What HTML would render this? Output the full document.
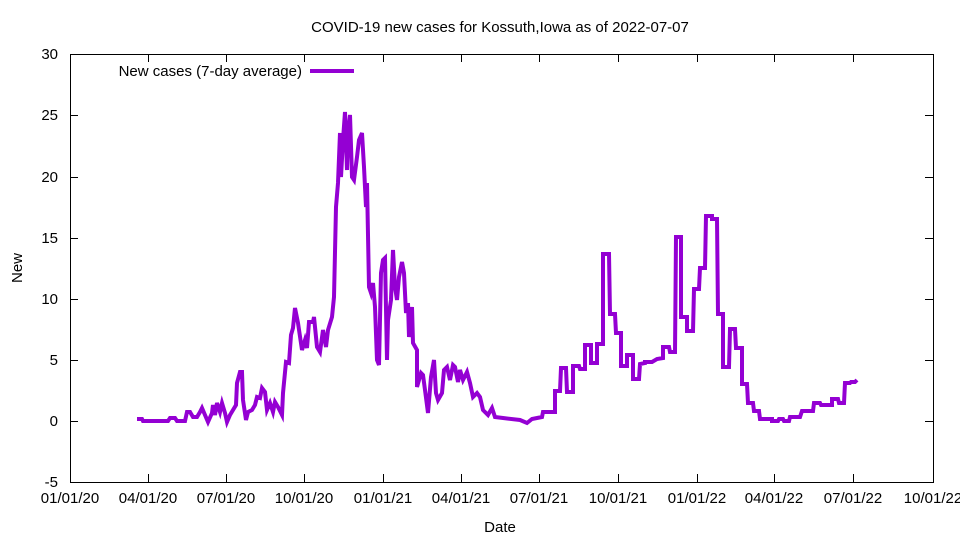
<!DOCTYPE html>
<html><head><meta charset="utf-8"><style>
html,body{margin:0;padding:0;background:#fff;}
svg{display:block;font-family:"Liberation Sans",Arial,sans-serif;}
</style></head><body>
<svg width="960" height="540" viewBox="0 0 960 540" xmlns="http://www.w3.org/2000/svg">
<rect width="960" height="540" fill="#fff"/>
<text x="500" y="32" font-size="15" text-anchor="middle">COVID-19 new cases for Kossuth,Iowa as of 2022-07-07</text>
<g stroke="#000" stroke-width="1" fill="none">
<rect x="70.5" y="54.5" width="863" height="428"/>
<path d="M70 421.5h8M933 421.5h-8M70 360.5h8M933 360.5h-8M70 299.5h8M933 299.5h-8M70 238.5h8M933 238.5h-8M70 177.5h8M933 177.5h-8M70 115.5h8M933 115.5h-8"/>
<path d="M148.5 482v-8M148.5 54v8M226.5 482v-8M226.5 54v8M304.5 482v-8M304.5 54v8M383.5 482v-8M383.5 54v8M461.5 482v-8M461.5 54v8M539.5 482v-8M539.5 54v8M618.5 482v-8M618.5 54v8M697.5 482v-8M697.5 54v8M774.5 482v-8M774.5 54v8M853.5 482v-8M853.5 54v8"/>
</g>
<g font-size="15" text-anchor="end">
<text x="58" y="487">-5</text><text x="58" y="426">0</text><text x="58" y="365">5</text>
<text x="58" y="304">10</text><text x="58" y="243">15</text><text x="58" y="182">20</text>
<text x="58" y="120">25</text><text x="58" y="59">30</text>
</g>
<g font-size="15" text-anchor="middle">
<text x="70" y="503">01/01/20</text><text x="148" y="503">04/01/20</text><text x="226" y="503">07/01/20</text>
<text x="304" y="503">10/01/20</text><text x="383" y="503">01/01/21</text><text x="461" y="503">04/01/21</text>
<text x="539" y="503">07/01/21</text><text x="618" y="503">10/01/21</text><text x="697" y="503">01/01/22</text>
<text x="774" y="503">04/01/22</text><text x="853" y="503">07/01/22</text><text x="933" y="503">10/01/22</text>
<text x="500" y="532">Date</text>
</g>
<text x="22" y="268" font-size="15" text-anchor="middle" transform="rotate(-90 22 268)">New</text>
<text x="302" y="76" font-size="15" text-anchor="end">New cases (7-day average)</text>
<line x1="310" y1="71" x2="354" y2="71" stroke="#9400d3" stroke-width="4"/>
<polyline fill="none" stroke="#9400d3" stroke-width="4" stroke-linejoin="miter" points="137,419 142,419 143,421 168,421 170,418 175,418 177,421 185,421 187,412 190,412 193,417 197,417 200,412 202,408 205,415 208,422 212,413 213,405 215,415 217,403 220,412 222,403 225,413 227,422 230,415 233,410 236,405 237,383 240,372 242,372 243,400 246,420 248,412 252,410 255,405 257,397 260,398 262,388 265,392 267,410 270,403 273,412 275,402 278,407 282,415 283,393 286,362 289,363 291,335 293,328 295,308 298,323 302,350 305,340 307,348 309,322 313,322 314,317 317,347 320,352 323,330 326,347 328,330 332,317 334,297 336,207 338,183 340,133 341,177 343,140 345,112 347,170 348,133 350,115 352,177 354,180 357,157 359,140 362,133 364,167 366,207 367,183 369,287 371,293 373,283 375,307 377,360 379,365 381,273 383,260 385,258 387,360 388,320 391,300 393,250 395,287 397,300 399,277 402,262 404,273 406,313 408,303 409,337 412,307 413,343 417,350 417,387 421,373 423,375 425,390 428,413 431,377 434,360 436,393 438,400 442,393 444,370 447,367 450,380 453,365 455,367 458,382 460,370 463,380 467,372 470,383 473,397 477,393 480,397 483,410 488,415 492,408 495,417 503,418 520,420 527,423 532,419 542,417 543,412 555,412 555,391 560,391 561,368 566,368 567,392 573,392 573,366 579,366 580,369 585,369 585,345 591,345 591,363 597,363 597,344 603,344 603,254 609,254 610,314 615,314 616,333 621,333 621,366 627,366 627,355 633,355 633,379 639,379 640,364 645,363 645,362 652,362 657,359 663,358 663,347 669,347 670,352 675,352 676,237 681,237 681,317 687,317 687,331 693,331 694,289 699,289 700,268 705,268 706,216 712,216 712,219 717,219 718,314 723,314 723,367 729,367 730,329 735,329 736,348 742,348 742,384 747,384 748,403 753,403 754,411 759,411 760,419 772,419 772,421 778,421 779,419 783,419 784,421 789,421 790,417 800,417 802,411 813,411 814,403 820,403 821,405 832,405 832,399 838,399 839,403 844,403 845,383 850,383 851,382 855,382 857,380"/>
</svg>
</body></html>
